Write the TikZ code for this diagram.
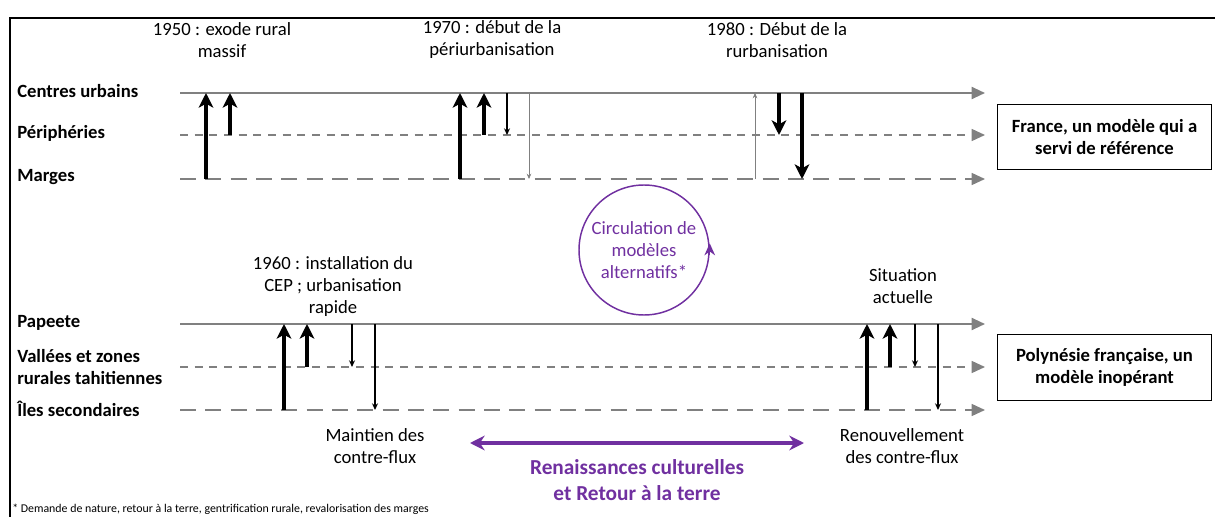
\documentclass[tikz,border=0pt]{standalone}
\usepackage{fontspec}
\setmainfont{Carlito}
\usetikzlibrary{arrows.meta}
\definecolor{prune}{RGB}{112,48,160}
\definecolor{axegris}{RGB}{128,128,128}

\begin{document}
\begin{tikzpicture}[x=0.75pt, y=-0.75pt,
    txt/.style={font=\fontsize{14}{16.5}\selectfont, align=center},
    lbl/.style={font=\fontsize{14}{16.5}\selectfont\bfseries, align=left, anchor=west, inner sep=0pt},
    boite/.style={draw, line width=0.8pt, font=\fontsize{14}{16.5}\selectfont\bfseries, align=center,
        minimum width=161pt, minimum height=49pt},
    axe/.style={axegris, line width=1.5pt, -{Triangle[length=10pt, width=9pt]}},
    axecourt/.style={axe, line width=1.1pt, dash pattern=on 6pt off 5pt},
    axelong/.style={axe, line width=1.1pt, dash pattern=on 12pt off 7pt},
    fort/.style={line width=2.3pt, -{Stealth[length=11pt, width=11pt, inset=3pt]}},
    mince/.style={line width=0.8pt, -{Stealth[length=5pt, width=4.5pt]}},
    pale/.style={axegris, line width=0.6pt, -{Stealth[length=4pt, width=3.5pt]}}]
    \useasboundingbox (0,0) rectangle (1215,517);

    % cadre
    \draw[line width=1.1pt] (10,517) -- (10,18) -- (1215,18);

    % les axes
    \coordinate (cu) at (180,93);  \coordinate (cuE) at (985,93);
    \coordinate (pe) at (180,135); \coordinate (peE) at (985,135);
    \coordinate (mg) at (180,179); \coordinate (mgE) at (985,179);
    \coordinate (pp) at (180,324); \coordinate (ppE) at (985,324);
    \coordinate (vz) at (180,367); \coordinate (vzE) at (985,367);
    \coordinate (is) at (180,410); \coordinate (isE) at (985,410);
    \draw[axe] (cu) -- (cuE);
    \draw[axecourt] (pe) -- (peE);
    \draw[axelong] (mg) -- (mgE);
    \draw[axe] (pp) -- (ppE);
    \draw[axecourt] (vz) -- (vzE);
    \draw[axelong] (is) -- (isE);

    \node[lbl] (lcu) at (17,91) {Centres urbains};
    \node[lbl] (lpe) at (17,133) {Périphéries};
    \node[lbl] (lmg) at (17,177) {Marges};
    \node[lbl] (lpp) at (17,323) {Papeete};
    \node[lbl] (lvz) at (17,367) {Vallées et zones\\rurales tahitiennes};
    \node[lbl] (lis) at (17,409) {Îles secondaires};

    % les flux
    \foreach \x/\de/\vers/\s in {206/mg/cu/fort, 230/pe/cu/fort,
        460/mg/cu/fort, 484/pe/cu/fort, 507/cu/pe/mince, 529/cu/mg/pale,
        755/mg/cu/pale, 779/cu/pe/fort, 802/cu/mg/fort,
        284/is/pp/fort, 307/vz/pp/fort, 352/pp/vz/mince, 375/pp/is/mince,
        867/is/pp/fort, 890/vz/pp/fort, 915/pp/vz/mince, 938/pp/is/mince}
        \draw[\s] (\x,0 |- \de) -- (\x,0 |- \vers);

    % les dates
    \node[txt] (d1950) at (222,40) {1950 : exode rural\\massif};
    \node[txt] (d1970) at (492,40) {1970 : début de la\\périurbanisation};
    \node[txt] (d1980) at (777,40) {1980 : Début de la\\rurbanisation};
    \node[txt] (d1960) at (333,287) {1960 : installation du\\CEP ; urbanisation\\rapide};
    \node[txt] (dact) at (903,286) {Situation\\actuelle};
    \node[txt] (maint) at (375,446) {Maintien des\\contre-flux};
    \node[txt] (renouv) at (902,446) {Renouvellement\\des contre-flux};

    % les modeles
    \node[boite] (france) at (1104.5,137) {France, un modèle qui a\\servi de référence};
    \node[boite] (polyn) at (1104.5,367.5) {Polynésie française, un\\modèle inopérant};

    % circulation
    \node[circle, draw=prune, line width=1.1pt, minimum size=97.5pt, inner sep=0pt,
        txt, text=prune] (circ) at (644,250) {Circulation de\\modèles\\alternatifs*};
    \draw[prune, line width=1.1pt, -{Stealth[length=9pt, width=8pt]}]
        ([yshift=-4pt]circ.east) -- ([yshift=5pt]circ.east);

    \coordinate (rgL) at (470,443);
    \coordinate (rgR) at (804,443);
    \draw[prune, line width=3pt, {Stealth[length=11pt, width=11pt]}-{Stealth[length=11pt, width=11pt]}]
        (rgL) -- (rgR);
    \node[font=\fontsize{16}{19}\selectfont\bfseries, text=prune, align=center] (renais) at (637,480)
        {Renaissances culturelles\\et Retour à la terre};

    \node[font=\fontsize{8.9}{10}\selectfont, anchor=base west, inner sep=0pt] (note) at (12,512)
        {* Demande de nature, retour à la terre, gentrification rurale, revalorisation des marges};
\end{tikzpicture}
\end{document}
